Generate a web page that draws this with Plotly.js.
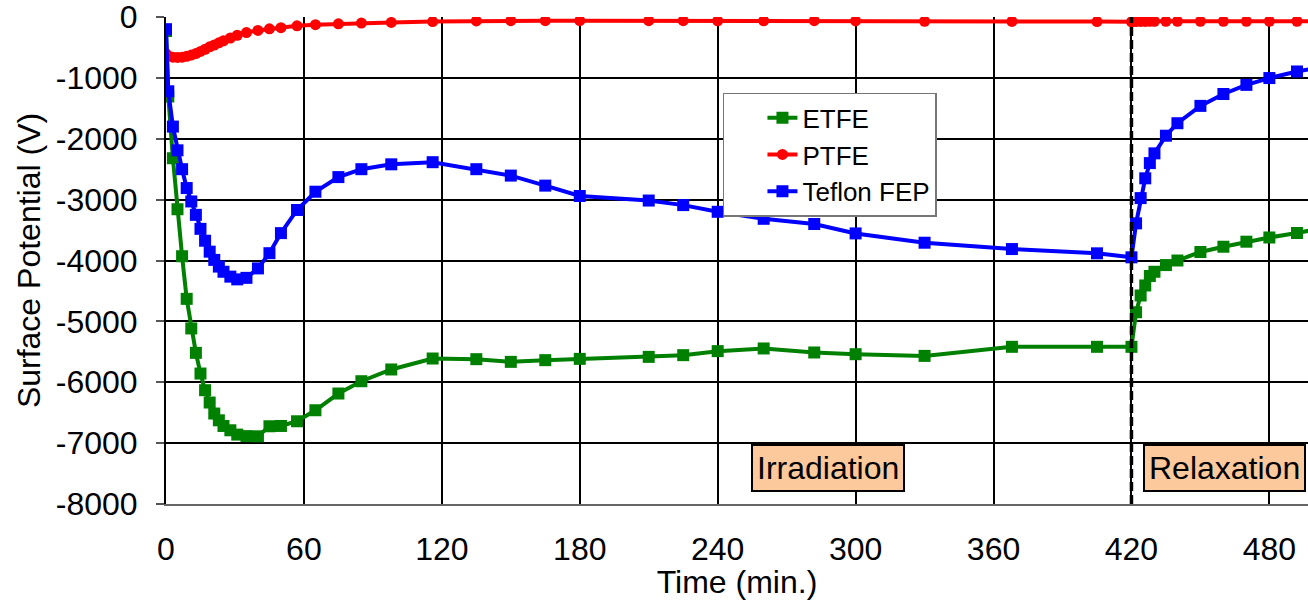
<!DOCTYPE html>
<html>
<head>
<meta charset="utf-8">
<script src="https://cdn.plot.ly/plotly-3.0.1.min.js"></script>
<style>html,body{margin:0;padding:0;background:#fff;}#chart{width:1308px;height:600px;}</style>
</head>
<body>
<div id="chart"></div>
<script>
// Time (min.)
const time = [0,1,3,5,7,9,11,13,15,17,19,21,23,25,28,31,35,40,45,50,57,65,75,85,98,116,135,150,165,180,210,225,240,260,282,300,330,368,405,420,422,424,426,428,430,435,440,450,460,470,480,492,500];

const etfe = [-230,-1306,-2320,-3158,-3930,-4630,-5116,-5517,-5857,-6131,
  -6333,-6514,-6625,-6718,-6789,-6860,-6885,-6888,-6723,-6718,
  -6641,-6460,-6185,-5983,-5790,-5610,-5621,-5665,-5637,-5616,
  -5583,-5555,-5489,-5445,-5511,-5539,-5567,-5418,-5418,-5418,
  -4850,-4575,-4410,-4255,-4185,-4075,-4000,-3860,-3774,-3691,
  -3622,-3548,-3490];

const ptfe = [-600,-640,-660,-665,-660,-645,-625,-600,-565,-530,
  -490,-460,-425,-390,-345,-300,-255,-220,-195,-175,
  -145,-127,-112,-100,-90,-75,-65,-60,-60,-60,
  -60,-60,-62,-62,-60,-65,-70,-72,-75,-80,
  -75,-72,-72,-70,-70,-70,-70,-70,-70,-70,
  -70,-70,-70];

const fep = [-200,-1220,-1800,-2190,-2500,-2810,-3030,-3250,-3480,-3675,
  -3855,-3990,-4100,-4185,-4265,-4310,-4285,-4130,-3880,-3550,
  -3170,-2870,-2630,-2500,-2420,-2385,-2500,-2605,-2770,-2940,
  -3015,-3090,-3200,-3315,-3400,-3555,-3708,-3812,-3882,-3948,
  -3390,-2975,-2650,-2400,-2240,-1950,-1745,-1460,-1265,-1115,
  -1003,-895,-840];

const seriesNames = ["ETFE","PTFE","Teflon FEP"];
const xTicks = [0,60,120,180,240,300,360,420,480];
const yTicks = [0,-1000,-2000,-3000,-4000,-5000,-6000,-7000,-8000];
const phaseLabels = ["Irradiation","Relaxation"];
const phaseStart = 420;

const FONT = "Liberation Sans, Arial, sans-serif";
const FS = 32;

const traces = [
  {x: time, y: etfe, name: seriesNames[0], type: "scatter", mode: "lines+markers",
   line: {color: "#008000", width: 4}, marker: {symbol: "square", size: 12, color: "#008000"}},
  {x: time, y: ptfe, name: seriesNames[1], type: "scatter", mode: "lines+markers",
   line: {color: "#FF0000", width: 4}, marker: {symbol: "circle", size: 11, color: "#FF0000"}},
  {x: time, y: fep, name: seriesNames[2], type: "scatter", mode: "lines+markers",
   line: {color: "#0000FF", width: 4}, marker: {symbol: "square", size: 12, color: "#0000FF"}}
];

const layout = {
  width: 1308, height: 600,
  margin: {l: 166, r: 0, t: 17, b: 96, pad: 0},
  paper_bgcolor: "#fff", plot_bgcolor: "#fff",
  font: {family: FONT, size: FS, color: "#000"},
  showlegend: true,
  legend: {x: 0.4877, y: 0.8445, xanchor: "left", yanchor: "top",
    bgcolor: "#fff", bordercolor: "#777", borderwidth: 1.5,
    font: {family: FONT, size: 26, color: "#000"}, indentation: 38, tracegroupgap: 0},
  xaxis: {
    range: [0, 496.8], tickvals: xTicks, ticktext: xTicks.map(String),
    showgrid: true, gridcolor: "#000", gridwidth: 2, zeroline: false,
    showline: true, linecolor: "#666", linewidth: 2,
    ticks: "", ticklabelstandoff: 16, ticklabeloverflow: "allow",
    tickfont: {family: FONT, size: FS},
    title: {text: "Time (min.)", font: {family: FONT, size: FS}, standoff: 0}
  },
  yaxis: {
    range: [-8000, 0], tickvals: yTicks, ticktext: yTicks.map(String),
    showgrid: true, gridcolor: "#000", gridwidth: 2, zeroline: false,
    showline: true, linecolor: "#000", linewidth: 2,
    ticks: "outside", ticklen: 8, tickwidth: 2, tickcolor: "#555",
    ticklabelstandoff: 12, ticklabeloverflow: "allow",
    tickfont: {family: FONT, size: FS},
    title: {text: "Surface Potential (V)", font: {family: FONT, size: FS}, standoff: 6}
  },
  shapes: [
    {type: "line", xref: "x", yref: "paper", x0: phaseStart, x1: phaseStart, y0: 0, y1: 1,
     line: {color: "#000", width: 3.5, dash: "9px,4px"}}
  ],
  annotations: [
    {xref: "x", yref: "y", x: 287.8, y: -7406, text: phaseLabels[0], showarrow: false,
     xanchor: "center", yanchor: "middle", bgcolor: "#FBC99B", bordercolor: "#000", borderwidth: 2,
     borderpad: 4, font: {family: FONT, size: FS, color: "#000"}},
    {xref: "x", yref: "y", x: 425.1, y: -7406, text: phaseLabels[1], showarrow: false,
     xanchor: "left", yanchor: "middle", bgcolor: "#FBC99B", bordercolor: "#000", borderwidth: 2,
     borderpad: 4, font: {family: FONT, size: FS, color: "#000"}}
  ]
};

Plotly.newPlot("chart", traces, layout, {displayModeBar: false, staticPlot: true});
</script>
</body>
</html>
